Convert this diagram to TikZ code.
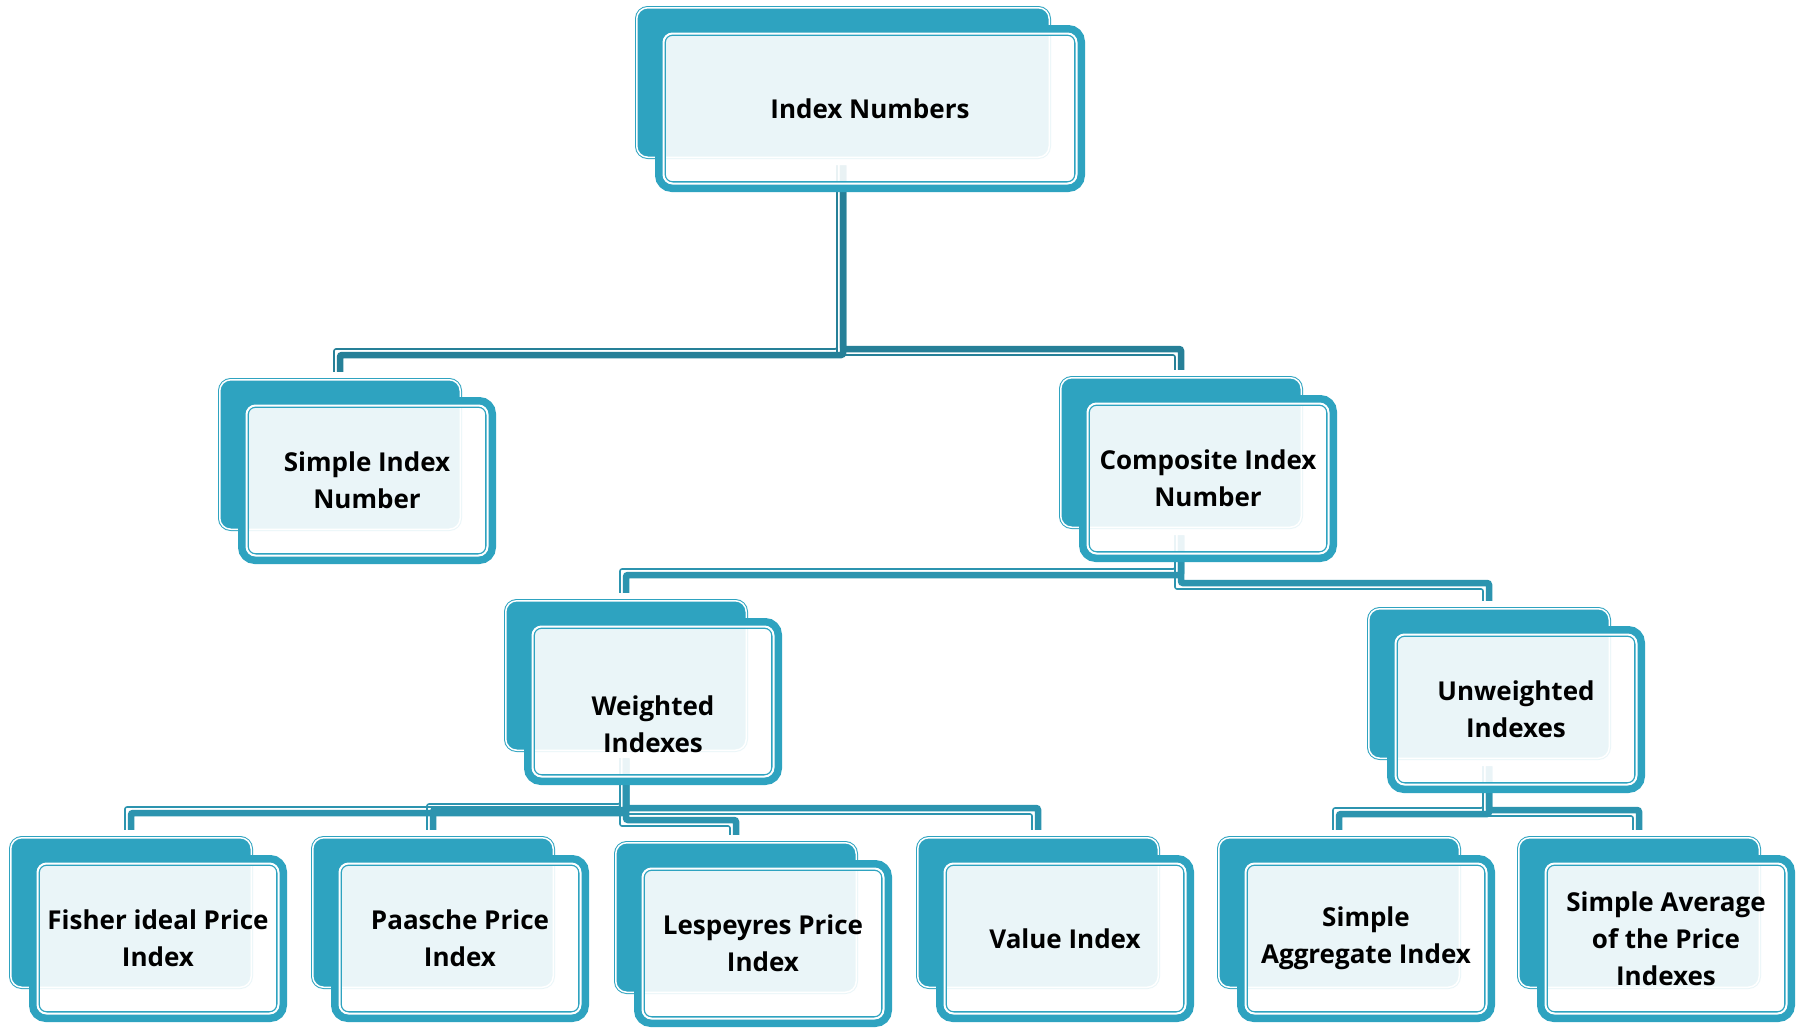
\documentclass[tikz,border=0pt]{standalone}
\usepackage{fontspec}
\setmainfont{Open Sans}
\usetikzlibrary{calc}
\definecolor{boxteal}{RGB}{46,163,192}
\definecolor{connA}{RGB}{38,128,152}
\definecolor{connB}{RGB}{44,148,175}
\tikzset{
  backbox/.style={rectangle, rounded corners=11pt, fill=boxteal, draw=boxteal,
    line width=1pt, double=white, double distance=1.5pt,
    minimum height=149.5pt, inner sep=0pt, outer sep=0pt, anchor=north west},
  frontframe/.style={rectangle, rounded corners=13pt, draw=boxteal, line width=7.5pt,
    minimum height=159.5pt, inner sep=0pt, outer sep=0pt, anchor=north west},
  fronttext/.style={rectangle, rounded corners=9pt, draw=boxteal, line width=1.3pt,
    double=white, double distance=2pt, fill=white, fill opacity=0.9, text opacity=1,
    minimum height=150pt, inner sep=0pt, outer sep=0pt, anchor=north west,
    align=center, text=black, font=\fontsize{26pt}{37pt}\selectfont\bfseries},
  connthick/.style={line width=6.5pt, rounded corners=2pt},
  connthin/.style={line width=1.6pt, rounded corners=2pt}
}
% back shape: name, x, y, width
\newcommand\backnode[4]{%
  \node[backbox, minimum width=#4pt-3.5pt] (#1) at (#2+1.75, #3+1.75) {};}
% front shape: name, x, y (of back), width (of back), text
\newcommand\frontnode[5]{%
  \node[frontframe, minimum width=#4pt+14pt-7.5pt] (#1o) at (#2+23.75, #3+22.75) {};
  \node[fronttext, minimum width=#4pt-3pt] (#1) at (#2+28.5, #3+27.5) {#5};}
% connector: parent, child, mid y, side offset, colour
\newcommand\linkto[5]{%
  \draw[connthick, draw=#5] ($(#1.south)+(0,8)$) -- (#1.south |- 0,#3) -- (#2.north |- 0,#3) -- ($(#2.north)+(0,-8)$);
  \draw[connthin, draw=#5] ($(#1.south)+(-6,8)$) -- ($(#1.south |- 0,#3)+(-6,#4)$) -- ($(#2.north |- 0,#3)+(-6,#4)$) -- ($(#2.north)+(-6,-8)$);}
\begin{document}
\begin{tikzpicture}[x=1pt, y=-1pt]
\useasboundingbox[fill=white] (0,0) rectangle (1804,1029);
% back shapes
\backnode{bI}{635}{6}{416}
\backnode{bS}{218}{378}{244}
\backnode{bC}{1059}{376}{244}
\backnode{bW}{504}{599}{244}
\backnode{bU}{1367}{607}{244}
\backnode{bF}{9}{836}{244}
\backnode{bP}{311}{836}{244}
\backnode{bL}{614}{841}{244}
\backnode{bV}{916}{836}{244}
\backnode{bG}{1217}{836}{244}
\backnode{bR}{1517}{836}{244}
% connectors
\linkto{bI}{bS}{355}{-6}{connA}
\linkto{bI}{bC}{349}{6}{connA}
\linkto{bC}{bW}{575}{-6}{connB}
\linkto{bC}{bU}{583}{6}{connB}
\linkto{bW}{bF}{813}{-6}{connB}
\linkto{bW}{bP}{810}{-6}{connB}
\linkto{bW}{bL}{820}{6}{connB}
\linkto{bW}{bV}{808}{6}{connB}
\linkto{bU}{bG}{814}{-6}{connB}
\linkto{bU}{bR}{810}{6}{connB}
% front shapes with texts
\frontnode{fI}{635}{6}{416}{\raisebox{0pt}{Index Numbers}}
\frontnode{fS}{218}{378}{244}{Simple Index\\Number}
\frontnode{fC}{1059}{376}{244}{Composite Index\\Number}
\frontnode{fW}{504}{599}{244}{\raisebox{-31pt}[0pt][0pt]{\begin{tabular}{@{}c@{}}Weighted\\Indexes\end{tabular}}}
\frontnode{fU}{1367}{607}{244}{Unweighted\\Indexes}
\frontnode{fF}{9}{836}{244}{Fisher ideal Price\\Index}
\frontnode{fP}{311}{836}{244}{Paasche Price\\Index}
\frontnode{fL}{614}{841}{244}{Lespeyres Price\\Index}
\frontnode{fV}{916}{836}{244}{Value Index}
\frontnode{fG}{1217}{836}{244}{Simple\\Aggregate Index}
\frontnode{fR}{1517}{836}{244}{Simple Average\\of the Price\\Indexes}
\end{tikzpicture}
\end{document}
